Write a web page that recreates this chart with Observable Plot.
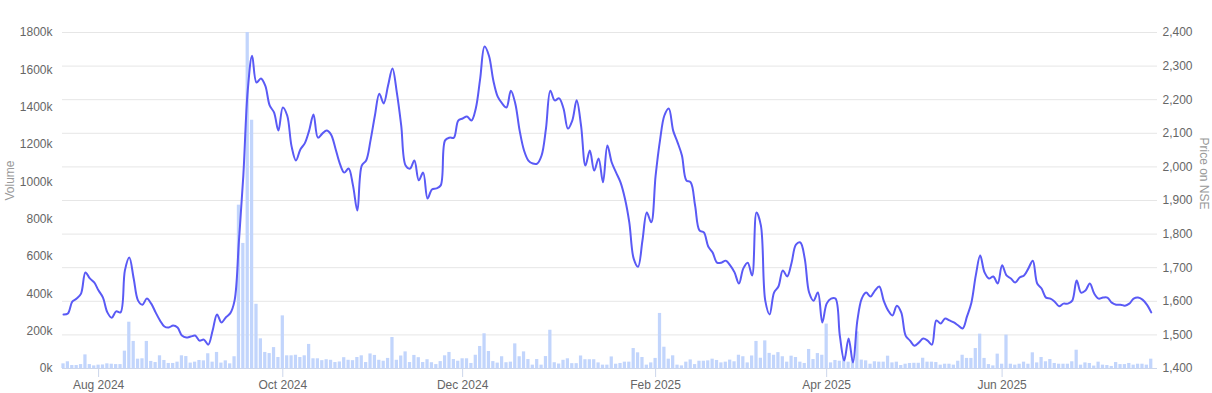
<!DOCTYPE html>
<html>
<head>
<meta charset="utf-8">
<script src="https://cdn.jsdelivr.net/npm/d3@7"></script>
<script src="https://cdn.jsdelivr.net/npm/@observablehq/plot@0.6"></script>
<style>
  html, body { margin: 0; padding: 0; background: #ffffff; }
  #chart { width: 1212px; height: 393px; }
</style>
</head>
<body>
<div id="chart"></div>
<script>
// Trading-day index 0..248 (Jul 2024 – Jul 2025)
const volumeK = [
  25,36,16,16,21,73,21,14,18,19,25,23,21,21,93,248,145,50,52,145,38,32,68,43,27,27,34,68,64,
  29,34,43,41,79,34,86,29,41,25,63,
  875,670,1800,1330,344,159,86,80,112,59,
  282,68,68,71,59,68,129,
  52,52,42,47,44,32,35,58,44,42,59,68,32,78,70,44,39,54,166,44,67,89,32,70,58,32,47,
  31,21,37,68,86,48,39,52,52,27,71,118,186,91,37,29,63,31,34,132,63,89,48,18,48,18,64,205,31,24,
  44,52,26,26,67,47,47,47,30,
  18,18,62,23,
  27,34,34,107,84,59,18,30,54,295,114,50,68,18,14,34,46,21,39,39,41,50,43,30,34,45,36,71,63,30,
  67,145,55,148,81,71,85,
  63,34,66,59,34,27,102,48,80,71,238,30,43,39,63,34,48,196,45,41,23,36,34,34,66,30,34,16,23,27,
  28,28,55,34,
  34,32,18,23,23,18,39,71,54,54,107,184,54,21,14,77,23,179,23,18,23,34,23,84,30,59,36,
  48,27,23,23,23,36,98,18,30,27,13,34,18,16,11,32,21,21,27,18,23,23,18,50
];

const price = [
  1561,1564,1599,1608,1623,1686,1668,1656,1632,1611,
  1567,1551,1570,1567,1692,1730,1668,1602,1590,1608,
  1593,1567,1543,1525,1522,1528,1522,1498,1492,1495,
  1498,1483,1486,1471,1513,1561,1537,1552,1564,1602,
  1781,1974,2227,2331,2251,2263,2242,2183,2162,2108,
  2177,2153,2061,2019,2052,2070,2108,2156,2087,2099,
  2108,2096,2055,2010,1983,1995,1945,1870,2004,2019,
  2079,2153,2218,2189,2242,2293,2221,2123,2004,1995,
  2019,1960,1983,1906,1933,1936,1945,2079,2087,2087,
  2138,2144,2150,2138,2174,2263,2358,2331,2257,2209,
  2189,2177,2227,2189,2108,2049,2019,2010,2010,2034,
  2114,2227,2198,2204,2174,2114,2138,2198,2123,2004,
  2049,1989,2025,1954,2064,2013,1983,1954,1906,1835,
  1727,1703,1781,1864,1835,1974,2079,2153,2174,2108,
  2073,2034,1960,1954,1885,1811,1805,1763,1745,1715,
  1715,1721,1707,1686,1653,1698,1715,1677,1864,1826,
  1602,1561,1626,1644,1692,1674,1715,1769,1775,1727,
  1626,1602,1626,1537,1593,1608,1608,1498,1424,1489,
  1418,1543,1608,1626,1614,1632,1644,1602,1573,1558,
  1587,1567,1498,1483,1468,1477,1489,1483,1471,1543,
  1534,1549,1543,1537,1528,1519,1555,1596,1677,1736,
  1686,1668,1674,1653,1707,1677,1668,1656,1671,1677,
  1698,1721,1653,1638,1611,1608,1599,1585,1593,1593,
  1602,1662,1626,1632,1653,1623,1608,1611,1611,1596,
  1590,1590,1587,1593,1608,1611,1605,1590,1567
];

const monthTickIndex = [8, 50, 91, 135, 174, 214];
const monthTickLabels = ["Aug 2024", "Oct 2024", "Dec 2024", "Feb 2025", "Apr 2025", "Jun 2025"];
const volumeTicksK = [0, 200, 400, 600, 800, 1000, 1200, 1400, 1600, 1800];
const priceTicks = [1400, 1500, 1600, 1700, 1800, 1900, 2000, 2100, 2200, 2300, 2400];

// Price axis (1,400–2,400) shares the vertical extent of the volume axis (0–1800k)
const PRICE_MIN = 1400, PRICE_MAX = 2400, VOL_MAX = 1800000;
const toVolUnits = p => (p - PRICE_MIN) / (PRICE_MAX - PRICE_MIN) * VOL_MAX;

const rows = price.map((p, i) => ({ i, price: p, volume: volumeK[i] * 1000 }));
const tickMap = new Map(monthTickIndex.map((t, k) => [t, monthTickLabels[k]]));

const chart = Plot.plot({
  width: 1212,
  height: 393,
  marginLeft: 62,
  marginRight: 55,
  marginTop: 32,
  marginBottom: 25,
  style: { fontFamily: "'Liberation Sans', Arial, sans-serif", fontSize: "12px", color: "#666666", background: "#ffffff" },
  x: { type: "linear", domain: [-0.23, 249.43] },
  y: { domain: [0, VOL_MAX] },
  marks: [
    Plot.ruleY(priceTicks.map(toVolUnits), { stroke: "#e6e6e6", strokeWidth: 1 }),
    Plot.rect(rows, { x1: d => d.i - 0.37, x2: d => d.i + 0.37, y1: 0, y2: "volume", fill: "#c2d5fc" }),
    Plot.ruleY([0], { stroke: "#ccd6eb", strokeWidth: 1 }),
    Plot.line(rows, { x: "i", y: d => toVolUnits(d.price), stroke: "#5a5af5", strokeWidth: 2, curve: "catmull-rom" }),
    Plot.axisX({ ticks: monthTickIndex, tickFormat: d => tickMap.get(d), tickSize: 9, tickPadding: 3, stroke: "#ccd6eb", fill: "#666666", label: null }),
    Plot.axisY({ anchor: "left", ticks: volumeTicksK.map(v => v * 1000), tickFormat: d => (d / 1000) + "k", tickSize: 0, tickPadding: 10, fill: "#666666", label: null }),
    Plot.axisY({ anchor: "right", ticks: priceTicks.map(toVolUnits), tickFormat: d => Math.round(PRICE_MIN + d / VOL_MAX * (PRICE_MAX - PRICE_MIN)).toLocaleString("en-US"), tickSize: 0, tickPadding: 5, textAnchor: "start", fill: "#666666", label: null }),
    Plot.text(["Volume"], { frameAnchor: "left", dx: -52, rotate: -90, fill: "#999999", fontSize: 12 }),
    Plot.text(["Price on NSE"], { frameAnchor: "right", dx: 46, dy: 9, rotate: 90, fill: "#999999", fontSize: 12 })
  ]
});
document.getElementById("chart").appendChild(chart);
</script>
</body>
</html>
